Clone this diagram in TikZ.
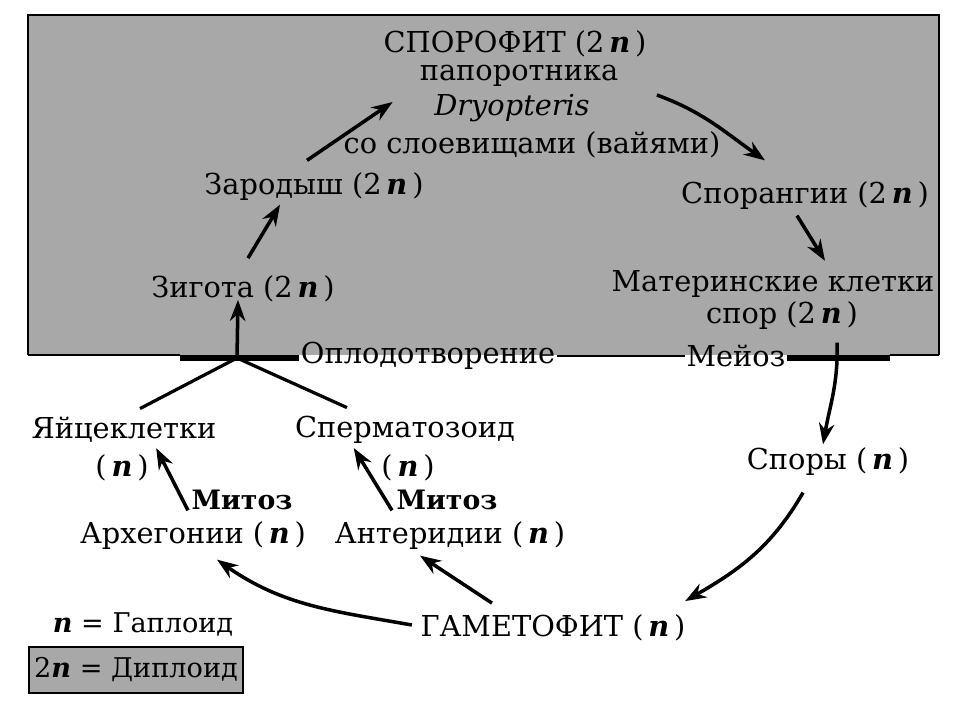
\documentclass[tikz,border=0pt]{standalone}
\usepackage{fontspec}
\setmainfont{DejaVu Serif}
\usetikzlibrary{arrows.meta}
\definecolor{boxgray}{gray}{0.66}
\newcommand{\hn}{\textbf{\textit{n}}}

\begin{document}
\begin{tikzpicture}[
  x=0.025cm, y=0.025cm,
  every node/.style={inner sep=1pt},
  lbl/.style={font=\fontsize{20.5}{24}\selectfont},
  keylbl/.style={font=\fontsize{19.3}{23}\selectfont},
  boldlbl/.style={font=\fontsize{19}{23}\selectfont\bfseries},
  arr/.style={draw, line width=2.5pt, -{Stealth[length=15pt,width=11pt]}},
  gline/.style={draw, line width=2.3pt},
  fusebar/.style={draw, line width=3.6pt},
  thinbar/.style={draw, line width=1.4pt},
  zoneedge/.style={draw, line width=1.9pt}]

  \useasboundingbox (0,0) rectangle (960,-720);

  % ---- the diploid part of the cycle, shaded ------------------------------
  \fill[boxgray] (28,-15) rectangle (939,-355);
  \draw[zoneedge] (28,-355) -- (28,-15) -- (939,-15) -- (939,-355);
  \draw[zoneedge] (28,-355) -- (180,-355);
  \draw[zoneedge] (890,-355) -- (939,-355);

  % ---- sporophyte ---------------------------------------------------------
  \node[lbl] (sptitle) at (515,-44) {СПОРОФИТ (2\,\hn\,)};
  \node[lbl] (spfern) at (519,-76) {папоротника};
  \node[lbl] (spgenus) at (512,-108) {\textit{Dryopteris}};
  \node[lbl] (spfronds) at (532,-145) {со слоевищами (вайями)};

  \node[lbl] (zarod) at (314,-187) {Зародыш (2\,\hn\,)};
  \node[lbl] (zigota) at (243,-289) {Зигота (2\,\hn\,)};
  \node[lbl] (sporang) at (805,-196) {Спорангии (2\,\hn\,)};
  \node[lbl] (mater) at (773,-284) {Материнские клетки};
  \node[lbl] (materspor) at (782,-316) {спор (2\,\hn\,)};

  % ---- the boundary line --------------------------------------------------
  \node[lbl] (fert) at (428,-356) {Оплодотворение};
  \node[lbl] (meio) at (736,-356) {Мейоз};
  \coordinate (fuse) at (237,-358);
  \coordinate (barl) at (180,-358);
  \coordinate (barr) at (890,-358);
  \draw[fusebar] (barl) -- (barl -| fert.west);
  \draw[thinbar] (fert.east) -- (meio.west);
  \draw[fusebar] (meio.east |- barr) -- (barr);

  % ---- gametophyte --------------------------------------------------------
  \node[lbl] (egg) at (124,-430) {Яйцеклетки};
  \node[lbl] (eggn) at (122,-468) {(\,\hn\,)};
  \node[lbl] (sperm) at (405,-430) {Сперматозоид};
  \node[lbl] (spermn) at (408,-468) {(\,\hn\,)};
  \node[boldlbl] (mitl) at (242,-500) {Митоз};
  \node[lbl] (arch) at (193,-536) {Архегонии (\,\hn\,)};
  \node[boldlbl] (mitr) at (447,-500) {Митоз};
  \node[lbl] (anther) at (450,-536) {Антеридии (\,\hn\,)};
  \node[lbl] (spory) at (828,-462) {Споры (\,\hn\,)};
  \node[lbl] (gameto) at (553,-628) {ГАМЕТОФИТ (\,\hn\,)};

  % ---- key ----------------------------------------------------------------
  \node[keylbl] (haplo) at (143,-624) {\hn{} = Гаплоид};
  \node[keylbl, draw, line width=1.4pt, fill=boxgray, inner sep=0pt,
        minimum width=5.35cm, minimum height=1.15cm] (diplo) at (136,-670)
        {2\hn{} = Диплоид};

  % ---- arrows round the cycle ---------------------------------------------
  \draw[arr] (fuse) -- ([shift={(-5,4)}]zigota.south);
  \draw[arr] ([shift={(5,16)}]zigota.north) -- ([shift={(-34,-2)}]zarod.south);
  \draw[arr] ([shift={(-7,11)}]zarod.north) -- ([shift={(-40,6)}]spgenus.west);
  \draw[arr] ([shift={(37,-19)}]spfern.east) to[out=-20,in=145]
    ([shift={(-40,20)}]sporang.north);
  \draw[arr] ([shift={(-8,-4)}]sporang.south) -- ([shift={(52,8)}]mater.north);
  \draw[arr] ([shift={(55,-11)}]materspor.south) to[out=-88,in=80]
    ([shift={(-5,2)}]spory.north);
  \draw[arr] ([shift={(-25,-15)}]spory.south) to[out=240,in=30]
    ([shift={(-2,12)}]gameto.north east);
  \draw[arr] ([shift={(-7,3)}]gameto.west) to[out=170,in=-35]
    ([shift={(24,-8)}]arch.south);
  \draw[arr] ([shift={(-61,10)}]gameto.north) -- ([shift={(-30,-4)}]anther.south);
  \draw[arr] ([shift={(-5,10)}]arch.north) -- ([shift={(6,5)}]eggn.north east);
  \draw[arr] ([shift={(-58,10)}]anther.north) -- ([shift={(-26,5)}]spermn.north west);

  % ---- the gametes meet ---------------------------------------------------
  \draw[gline] (fuse) -- ([shift={(16,7)}]egg.north);
  \draw[gline] (fuse) -- ([shift={(-58,7)}]sperm.north);
\end{tikzpicture}
\end{document}
